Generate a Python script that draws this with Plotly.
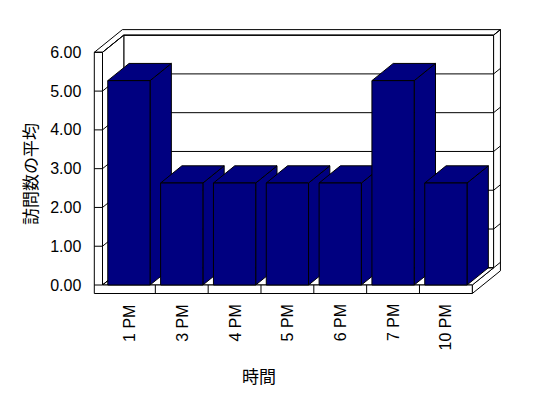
import plotly.graph_objects as go

# ---------------- data ----------------
categories = ["1 PM", "3 PM", "4 PM", "5 PM", "6 PM", "7 PM", "10 PM"]
values = [5.27, 2.63, 2.63, 2.63, 2.63, 5.27, 2.63]
y_tick_values = [0, 1, 2, 3, 4, 5, 6]
y_tick_labels = ["0.00", "1.00", "2.00", "3.00", "4.00", "5.00", "6.00"]
x_title = "時間"
y_title = "訪問数の平均"

# ---------------- styling / geometry ----------------
W, H = 548, 398
BAR_COLOR = "#000080"
EDGE = "black"
CW = 52.83          # px per category
KY = 38.78          # px per value unit
X0 = 102.5          # px of category 0 on front plane
Y0 = 285.0          # px of value 0 on front plane
DDX = 21.3 / CW     # depth shift (data units) for full depth
DDY = 17.2 / KY
TW = 8.2 / CW       # left wall thickness
TF = 8.5 / KY       # floor thickness
TZ = 0.32           # back wall thickness (depth fraction)
YMAX = y_tick_values[-1]
N = len(categories)
BAR_W = 0.8
XLABEL_GAP = 10     # px between floor bottom and category labels

x_range = [-X0 / CW, (W - X0) / CW]
y_range = [-(H - Y0) / KY, Y0 / KY]


def P(X, Y, Z):
    return X + Z * DDX, Y + Z * DDY


fig = go.Figure()


def face(pts, fill="white", width=1):
    xs, ys = [], []
    for p in pts:
        x, y = P(*p)
        xs.append(x)
        ys.append(y)
    xs.append(xs[0])
    ys.append(ys[0])
    fig.add_trace(go.Scatter(x=xs, y=ys, mode="lines", fill="toself",
                             fillcolor=fill, line=dict(color=EDGE, width=width),
                             hoverinfo="skip", showlegend=False))


def lines(segs, width=1, color=EDGE):
    xs, ys = [], []
    for a, b in segs:
        for p in (a, b):
            x, y = P(*p)
            xs.append(x)
            ys.append(y)
        xs.append(None)
        ys.append(None)
    fig.add_trace(go.Scatter(x=xs, y=ys, mode="lines",
                             line=dict(color=color, width=width),
                             hoverinfo="skip", showlegend=False, connectgaps=False))


# back wall front face
face([(0, 0, 1), (N, 0, 1), (N, YMAX, 1), (0, YMAX, 1)])
# combined top of walls
face([(-TW, YMAX, 0), (0, YMAX, 0), (0, YMAX, 1), (N, YMAX, 1),
      (N, YMAX, 1 + TZ), (-TW, YMAX, 1 + TZ)])
# combined right faces (back wall end + floor end)
face([(N, -TF, 0), (N, 0, 0), (N, 0, 1), (N, YMAX, 1),
      (N, YMAX, 1 + TZ), (N, -TF, 1 + TZ)])
# left wall inner face
face([(0, 0, 0), (0, YMAX, 0), (0, YMAX, 1), (0, 0, 1)])
# floor top
face([(0, 0, 0), (N, 0, 0), (N, 0, 1), (0, 0, 1)])

# gridlines on left wall inner face, back wall, and back wall end
grid = []
for v in y_tick_values:
    grid.append(((0, v, 0), (0, v, 1)))
    grid.append(((0, v, 1), (N, v, 1)))
    grid.append(((N, v, 1), (N, v, 1 + TZ)))
lines(grid)

# front L-shaped face (left wall front + floor front)
face([(-TW, -TF, 0), (N, -TF, 0), (N, 0, 0), (0, 0, 0), (0, YMAX, 0), (-TW, YMAX, 0)])
# separators on floor front
lines([((k, -TF, 0), (k, 0, 0)) for k in range(1, N)])
# tick marks on left wall front
lines([((-TW, v, 0), (0, v, 0)) for v in y_tick_values])

# bars, left to right
for i, v in enumerate(values):
    x1 = i + (1 - BAR_W) / 2
    x2 = x1 + BAR_W
    face([(x2, 0, 0), (x2, 0, 1), (x2, v, 1), (x2, v, 0)], fill=BAR_COLOR)
    face([(x1, v, 0), (x2, v, 0), (x2, v, 1), (x1, v, 1)], fill=BAR_COLOR)
    face([(x1, 0, 0), (x2, 0, 0), (x2, v, 0), (x1, v, 0)], fill=BAR_COLOR)

tick_font = dict(family="Liberation Sans, Arial, sans-serif", size=16, color="black")
cjk_font = dict(family="Noto Sans CJK JP, sans-serif", size=17, color="black")

annotations = [
    dict(text=c, xref="x", yref="y", x=i + 0.5, y=-TF, yshift=-XLABEL_GAP,
         xanchor="center", yanchor="top", textangle=-90, showarrow=False,
         font=tick_font, borderpad=0)
    for i, c in enumerate(categories)
]
annotations += [
    dict(text=x_title, xref="paper", yref="paper", x=259 / W, y=1 - 375 / H,
         xanchor="center", yanchor="middle", showarrow=False, font=cjk_font),
    dict(text=y_title, xref="paper", yref="paper", x=29 / W, y=1 - 174 / H,
         xanchor="center", yanchor="middle", showarrow=False, textangle=-90,
         font=cjk_font),
]

fig.update_layout(
    width=W, height=H, autosize=False,
    margin=dict(l=0, r=0, t=0, b=0, pad=0),
    paper_bgcolor="white", plot_bgcolor="white",
    showlegend=False,
    xaxis=dict(range=x_range, visible=True, showticklabels=False, ticks="",
               showgrid=False, zeroline=False, showline=False, fixedrange=True),
    yaxis=dict(range=y_range, anchor="free", position=(X0 - TW * CW) / W,
               showgrid=False, zeroline=False, showline=False,
               tickmode="array", tickvals=y_tick_values, ticktext=y_tick_labels,
               ticks="", tickfont=tick_font, ticklabelstandoff=13,
               fixedrange=True),
    annotations=annotations,
)

fig.write_html("out.html")
